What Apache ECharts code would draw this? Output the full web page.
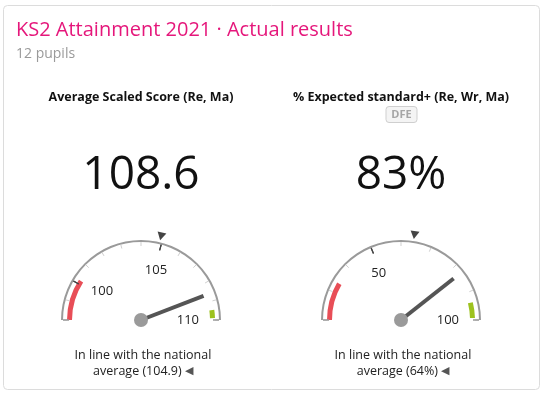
<!DOCTYPE html>
<html>
<head>
<meta charset="utf-8">
<script src="https://cdn.jsdelivr.net/npm/echarts@6/dist/echarts.min.js"></script>
<style>
html, body { margin: 0; padding: 0; background: #fff; }
#chart { width: 546px; height: 398px; }
</style>
</head>
<body>
<div id="chart"></div>
<script>
// chart data
const mainTitle = 'KS2 Attainment 2021 · Actual results';
const subTitle = '12 pupils';
const gaugeNames = ['Average Scaled Score (Re, Ma)', '% Expected standard+ (Re, Wr, Ma)'];
const actualValues = [108.6, 83];
const nationalValues = [104.9, 64];
const valueSuffix = ['', '%'];
const scaleMin = [98, 20];
const scaleMax = [110, 100];
const tickStep = [1, 10];
const tickLabels = [[100, 105, 110], [50, 100]];
const redBands = [[98, 100.2], [20, 33.5]];
const greenBands = [[109.47, 109.9], [93.8, 99.3]];
const verdicts = ['In line with the national', 'In line with the national'];
const badges = [null, 'DFE'];

const FONT = '"Open Sans", "Noto Sans", sans-serif';
const centers = [[141, 320], [401, 320]];
const RED = '#e84e57';
const GREEN = '#9dc21f';
const CLEAR = 'rgba(0,0,0,0)';

let myChart = echarts.init(document.getElementById('chart'));

function angleOf(i, v) {
    return 180 - (v - scaleMin[i]) / (scaleMax[i] - scaleMin[i]) * 180;
}
function frac(i, v) {
    return (v - scaleMin[i]) / (scaleMax[i] - scaleMin[i]);
}

// bits every gauge series turns off
const bare = {
    type: 'gauge',
    silent: true,
    progress: { show: false },
    axisTick: { show: false },
    splitLine: { show: false },
    axisLabel: { show: false },
    pointer: { show: false },
    anchor: { show: false },
    title: { show: false },
    detail: { show: false }
};

let series = [];
centers.forEach((c, i) => {
    // red / green bands inside the arc
    series.push(Object.assign({}, bare, {
        center: c, radius: 74, startAngle: 180, endAngle: 0,
        min: scaleMin[i], max: scaleMax[i],
        axisLine: { lineStyle: { width: 5, color: [
            [frac(i, redBands[i][0]), CLEAR],
            [frac(i, redBands[i][1]), RED],
            [frac(i, greenBands[i][0]), CLEAR],
            [frac(i, greenBands[i][1]), GREEN],
            [1, CLEAR]
        ] } },
        data: [{ value: scaleMin[i] }]
    }));
    // grey arc, minor ticks, labels
    series.push(Object.assign({}, bare, {
        center: c, radius: 80, startAngle: 180, endAngle: 0,
        min: scaleMin[i], max: scaleMax[i],
        splitNumber: Math.round((scaleMax[i] - scaleMin[i]) / tickStep[i]),
        axisLine: { lineStyle: { width: 2, color: [[1, '#9a9a9a']] } },
        splitLine: { show: true, length: 4, distance: 0, lineStyle: { color: '#cfcfcf', width: 1 } },
        axisLabel: {
            show: true, distance: 18, color: '#222', fontSize: 13, fontFamily: FONT,
            formatter: v => tickLabels[i].indexOf(Math.round(v * 1000) / 1000) >= 0 ? String(Math.round(v * 1000) / 1000) : ''
        },
        data: [{ value: scaleMin[i] }]
    }));
    // darker ticks at labelled values, grey feet at both ends
    const marks = tickLabels[i].filter(v => v !== scaleMin[i] && v !== scaleMax[i]).map(v => [v, '#444', 6])
        .concat([[scaleMin[i], '#9a9a9a', 6], [scaleMax[i], '#9a9a9a', 6]]);
    marks.forEach(m => {
        const a = angleOf(i, m[0]);
        series.push(Object.assign({}, bare, {
            center: c, radius: 80, startAngle: a + 0.01, endAngle: a - 0.01,
            min: 0, max: 1, splitNumber: 1,
            axisLine: { show: true, lineStyle: { width: 2, color: [[1, '#9a9a9a']] } },
            splitLine: { show: true, length: m[2], distance: 0, lineStyle: { color: m[1], width: 1.2 } },
            data: [{ value: 0 }]
        }));
    });
    // national average marker
    series.push(Object.assign({}, bare, {
        center: c, radius: 80, startAngle: 180, endAngle: 0,
        min: scaleMin[i], max: scaleMax[i],
        axisLine: { show: false },
        pointer: {
            show: true, icon: 'path://M0,0L10,0L5,9Z', length: 8, width: 9,
            offsetCenter: [0, -82], keepAspect: false,
            itemStyle: { color: '#444' }
        },
        data: [{ value: nationalValues[i] }]
    }));
    // needle + big value
    series.push(Object.assign({}, bare, {
        center: c, radius: 80, startAngle: 180, endAngle: 0,
        min: scaleMin[i], max: scaleMax[i],
        axisLine: { show: false },
        pointer: { show: true, icon: 'rect', length: 67, width: 4, itemStyle: { color: '#555' } },
        anchor: { show: true, showAbove: true, size: 14, itemStyle: { color: '#9a9a9a' } },
        detail: {
            show: true, offsetCenter: [0, -144], fontSize: 46, fontWeight: 'normal',
            color: '#111', fontFamily: FONT,
            formatter: v => v + valueSuffix[i]
        },
        data: [{ value: actualValues[i] }]
    }));
});

let graphics = [
    { type: 'rect', z: -10, shape: { x: 3.5, y: 5.5, width: 536, height: 384, r: 4 },
      style: { fill: '#fff', stroke: '#dcdcdc', lineWidth: 1 } },
    { type: 'text', x: 16, y: 20, style: { text: mainTitle, fill: '#e5177b',
      font: '20px ' + FONT, textVerticalAlign: 'top', verticalAlign: 'top' } },
    { type: 'text', x: 16, y: 47, style: { text: subTitle, fill: '#9a9a9a',
      font: '14px ' + FONT, textVerticalAlign: 'top', verticalAlign: 'top' } }
];
centers.forEach((c, i) => {
    graphics.push({ type: 'text', x: c[0], y: 91, style: { text: gaugeNames[i], fill: '#111',
        font: 'bold 12.5px ' + FONT, textAlign: 'center', align: 'center', textVerticalAlign: 'top', verticalAlign: 'top' } });
    if (badges[i]) {
        graphics.push({ type: 'rect', shape: { x: c[0] - 15, y: 106.5, width: 31, height: 16, r: 3 },
            style: { fill: '#f4f4f4', stroke: '#cfcfcf', lineWidth: 1 } });
        graphics.push({ type: 'text', x: c[0] + 0.5, y: 114.5, style: { text: badges[i], fill: '#a5a5a5',
            font: 'bold 11px ' + FONT, textAlign: 'center', align: 'center', textVerticalAlign: 'middle', verticalAlign: 'middle' } });
    }
    graphics.push({ type: 'text', x: c[0] + 2, y: 347, style: {
        text: verdicts[i] + '\n{a|average (' + nationalValues[i] + valueSuffix[i] + ')} {t|◀}',
        fill: '#222', font: '12.5px ' + FONT, lineHeight: 16,
        textAlign: 'center', align: 'center', textVerticalAlign: 'top', verticalAlign: 'top',
        rich: { a: { fill: '#222', font: '12.5px ' + FONT }, t: { fill: '#555', font: '11px ' + FONT } }
    } });
});

myChart.setOption({
    animation: false,
    graphic: graphics,
    series: series
});
</script>
</body>
</html>
